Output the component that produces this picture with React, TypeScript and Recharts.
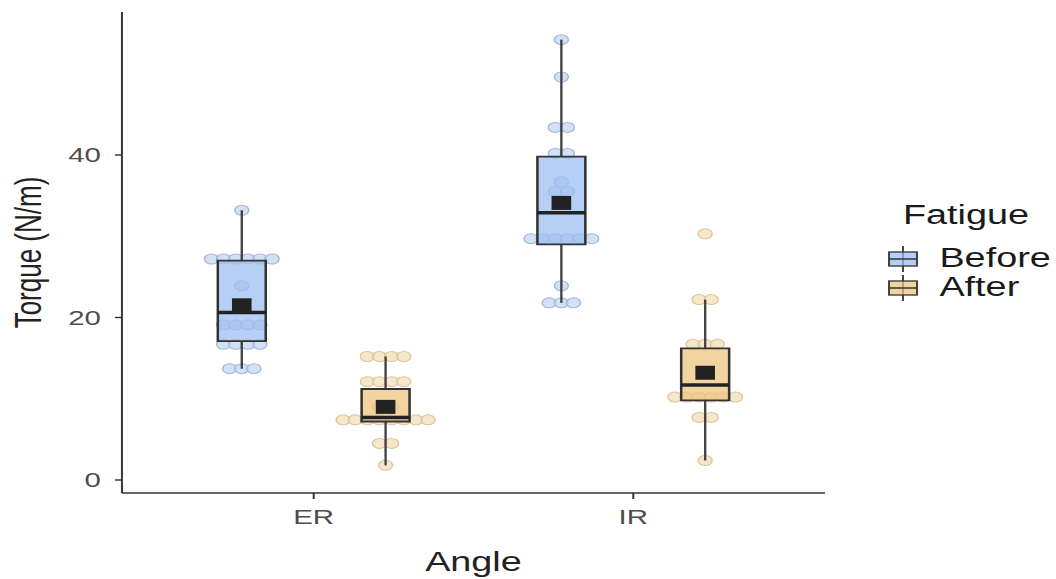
import React from 'react';
import { ComposedChart, XAxis, YAxis, Scatter, ReferenceArea, ReferenceLine, Legend } from 'recharts';

const angles = ['ER', 'IR'];
const fatigue = ['Before', 'After'];

// dotplot values, one list per group
const erBefore = [33.2, 27.2, 27.2, 27.2, 27.2, 27.2, 27.2, 23.9, 19.1, 19.1, 19.1, 19.1, 16.7, 16.7, 16.7, 16.7, 13.7, 13.7, 13.7];
const erAfter = [15.2, 15.2, 15.2, 15.2, 12.1, 12.1, 12.1, 12.1, 9.0, 9.0, 7.4, 7.4, 7.4, 7.4, 7.4, 7.4, 7.4, 7.4, 4.5, 4.5, 1.8];
const irBefore = [54.2, 49.6, 43.4, 43.4, 40.2, 40.2, 36.7, 35.5, 35.5, 29.7, 29.7, 29.7, 29.7, 29.7, 29.7, 23.9, 21.8, 21.8, 21.8];
const irAfter = [30.3, 22.2, 22.2, 16.7, 16.7, 16.7, 10.2, 10.2, 10.2, 10.2, 10.2, 10.2, 7.7, 7.7, 2.4];

// boxplot stats, order: ER-Before, ER-After, IR-Before, IR-After
const boxMin = [13.7, 1.8, 21.8, 2.4];
const boxQ1 = [17.1, 7.2, 29.0, 9.8];
const boxMedian = [20.6, 7.7, 32.9, 11.7];
const boxQ3 = [27.0, 11.2, 39.8, 16.2];
const boxMax = [33.2, 15.2, 54.2, 22.2];
const groupMeans = [21.5, 9.0, 34.1, 13.2];

const yTicks = [0, 20, 40];

const SX = 1.4;
const W = 1056 / SX;
const H = 579;
const FONT = '"Liberation Sans", Arial, sans-serif';

const boxFill = ['#9dbff0', '#eec680'];
const dotFill = ['#c8d9f3', '#f5e1bd'];
const dotStroke = ['#a3b6d8', '#dbc59c'];

const DODGE = 0.225;
const HALF = 0.075;
const DOT_STEP = 0.038;

const groupValues = [erBefore, erAfter, irBefore, irAfter];
const groups = groupValues.map((values, g) => {
  const a = Math.floor(g / 2);
  const f = g % 2;
  return { values, f, pos: a + 1 + (f === 0 ? -DODGE : DODGE) };
});

function stackDots(values: number[], center: number) {
  const counts = new Map<number, number>();
  values.forEach((v) => counts.set(v, (counts.get(v) || 0) + 1));
  const out: { x: number; y: number }[] = [];
  counts.forEach((n, v) => {
    for (let i = 0; i < n; i++) out.push({ x: center + (i - (n - 1) / 2) * DOT_STEP, y: v });
  });
  return out;
}

const meanData = groups.map((g, i) => ({ x: g.pos, y: groupMeans[i] }));

const renderLegend = () => (
  <div style={{ fontFamily: FONT, color: '#1a1a1a' }}>
    <div style={{ fontSize: 27, lineHeight: '30px', marginBottom: 14, marginLeft: 12 }}>Fatigue</div>
    {fatigue.map((f, i) => (
      <div key={f} style={{ display: 'flex', alignItems: 'center', height: 29 }}>
        <svg width={24} height={28}>
          <line x1={12} x2={12} y1={1} y2={27} stroke="#333" strokeWidth={1.3} />
          <rect x={2} y={7} width={20} height={14} fill={boxFill[i]} fillOpacity={0.75} stroke="#333" strokeWidth={1.3} />
          <line x1={2} x2={22} y1={14} y2={14} stroke="#333" strokeWidth={1.6} />
        </svg>
        <span style={{ fontSize: 27, marginLeft: 14 }}>{f}</span>
      </div>
    ))}
  </div>
);

export default function App() {
  return (
    <div style={{ position: 'absolute', left: 0, top: 0, width: 1056, height: H, overflow: 'hidden', background: '#fff' }}>
      <div style={{ width: W, height: H, transform: `scaleX(${SX})`, transformOrigin: '0 0' }}>
        <ComposedChart width={W} height={H} margin={{ top: 12, right: W - 589.3, bottom: 0, left: 0 }}>
          <XAxis
            type="number"
            dataKey="x"
            domain={[0.4, 2.6]}
            ticks={[1, 2]}
            tickFormatter={(v: number) => angles[v - 1]}
            height={86}
            axisLine={{ stroke: '#333', strokeWidth: 1.4 }}
            tickLine={{ stroke: '#333', strokeWidth: 1.4 }}
            tickSize={6}
            tickMargin={10}
            tick={{ fill: '#4d4d4d', fontSize: 21, fontFamily: FONT }}
            label={{ value: 'Angle', position: 'insideBottom', offset: 8, style: { fontSize: 27, fill: '#222', fontFamily: FONT } }}
          />
          <YAxis
            type="number"
            dataKey="y"
            domain={[-1.6, 57.6]}
            ticks={yTicks}
            width={87.1}
            axisLine={{ stroke: '#333', strokeWidth: 1.4 }}
            tickLine={{ stroke: '#333', strokeWidth: 1.4 }}
            tickSize={5}
            tickMargin={10}
            tick={{ fill: '#4d4d4d', fontSize: 21, fontFamily: FONT }}
            label={{ value: 'Torque (N/m)', angle: -90, position: 'insideLeft', offset: 20, style: { textAnchor: 'middle', fontSize: 26, fill: '#222', fontFamily: FONT } }}
          />
          {groups.map((g, i) => (
            <Scatter
              key={`dots-${i}`}
              data={stackDots(g.values, g.pos)}
              isAnimationActive={false}
              zIndex={50}
              shape={(p: any) => (
                <circle cx={p.cx} cy={p.cy} r={5} fill={dotFill[g.f]} fillOpacity={0.8} stroke={dotStroke[g.f]} strokeWidth={1} />
              )}
            />
          ))}
          {groups.map((g, i) => (
            <ReferenceLine
              key={`wu-${i}`}
              segment={[{ x: g.pos, y: boxQ3[i] }, { x: g.pos, y: boxMax[i] }]}
              stroke="#444"
              strokeWidth={1.7}
              zIndex={700}
            />
          ))}
          {groups.map((g, i) => (
            <ReferenceLine
              key={`wl-${i}`}
              segment={[{ x: g.pos, y: boxMin[i] }, { x: g.pos, y: boxQ1[i] }]}
              stroke="#444"
              strokeWidth={1.7}
              zIndex={700}
            />
          ))}
          {groups.map((g, i) => (
            <ReferenceArea
              key={`box-${i}`}
              x1={g.pos - HALF}
              x2={g.pos + HALF}
              y1={boxQ1[i]}
              y2={boxQ3[i]}
              fill={boxFill[g.f]}
              fillOpacity={0.75}
              stroke="#333"
              strokeWidth={1.8}
              zIndex={710}
            />
          ))}
          {groups.map((g, i) => (
            <ReferenceLine
              key={`med-${i}`}
              segment={[{ x: g.pos - HALF, y: boxMedian[i] }, { x: g.pos + HALF, y: boxMedian[i] }]}
              stroke="#222"
              strokeWidth={3.5}
              zIndex={720}
            />
          ))}
          <Scatter
            data={meanData}
            isAnimationActive={false}
            zIndex={730}
            shape={(p: any) => <rect x={p.cx - 7} y={p.cy - 7} width={14} height={14} fill="#222" />}
          />
          <Legend
            layout="horizontal"
            verticalAlign="middle"
            align="center"
            content={renderLegend}
            wrapperStyle={{ left: 633, top: 200, width: 130 }}
          />
        </ComposedChart>
      </div>
    </div>
  );
}
